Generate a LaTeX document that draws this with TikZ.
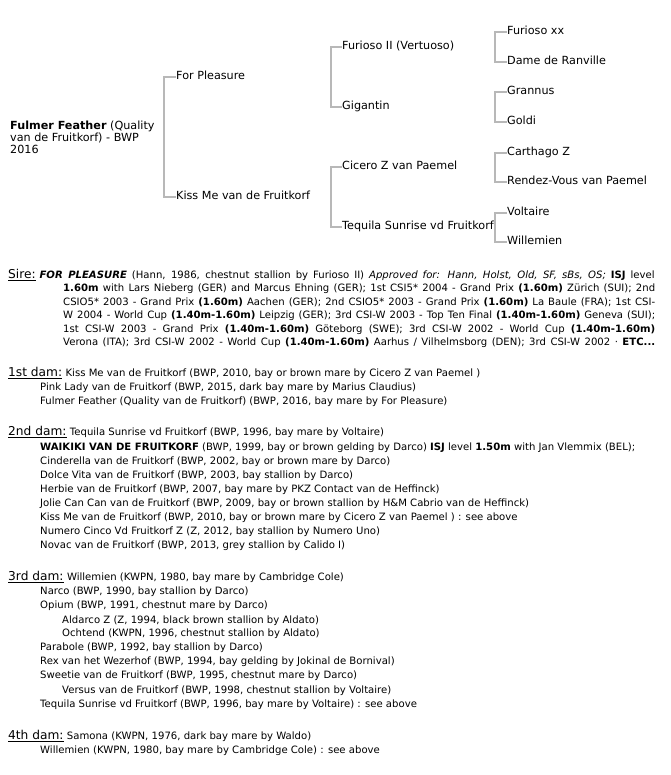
\documentclass[tikz,border=0pt]{standalone}
\usepackage{fontspec}
\setmainfont{DejaVu Sans}
\usetikzlibrary{positioning}
\newcommand\pedfont{\fontsize{11.2}{12}\selectfont}
\newcommand\bodyfont{\fontsize{10.1}{12}\selectfont}
\newcommand\headfont{\fontsize{12.2}{14}\selectfont}
\newcommand\jline[2]{\hbox to #1{#2}}
\tikzset{
  horse/.style={anchor=west, inner sep=0pt, font=\pedfont, text height=8pt, text depth=2.5pt},
  bracket/.style={draw=black!28, line width=1.2pt},
  entry/.style={anchor=base west, inner sep=0pt, font=\bodyfont},
  header/.style={anchor=base west, inner sep=0pt, font=\headfont}
}
\begin{document}
\begin{tikzpicture}[x=1pt, y=-1pt]
\useasboundingbox (0,0) rectangle (670,775);
% pedigree
\node[anchor=west, inner sep=0pt, align=left, font=\pedfont] (foal) at (10,137)
  {\textbf{Fulmer Feather} (Quality\\van de Fruitkorf) - BWP\\2016};
\node[horse] (sire) at (176,77) {For Pleasure};
\node[horse] (dam) at (176,197) {Kiss Me van de Fruitkorf};
\node[horse] (ss) at (342,47) {Furioso II (Vertuoso)};
\node[horse] (sd) at (342,107) {Gigantin};
\node[horse] (ds) at (342,167) {Cicero Z van Paemel};
\node[horse] (dd) at (342,227) {Tequila Sunrise vd Fruitkorf};
\node[horse] (sss) at (507,32) {Furioso xx};
\node[horse] (ssd) at (507,62) {Dame de Ranville};
\node[horse] (sds) at (507,92) {Grannus};
\node[horse] (sdd) at (507,122) {Goldi};
\node[horse] (dss) at (507,153) {Carthago Z};
\node[horse] (dsd) at (507,182) {Rendez-Vous van Paemel};
\node[horse] (dds) at (507,213) {Voltaire};
\node[horse] (ddd) at (507,242) {Willemien};
\draw[bracket] (sire.west) -- ++(-12,0) |- (dam.west);
\draw[bracket] (ss.west) -- ++(-11,0) |- (sd.west);
\draw[bracket] (ds.west) -- ++(-11,0) |- (dd.west);
\draw[bracket] (sss.west) -- ++(-12,0) |- (ssd.west);
\draw[bracket] (sds.west) -- ++(-12,0) |- (sdd.west);
\draw[bracket] (dss.west) -- ++(-12,0) |- (dsd.west);
\draw[bracket] (dds.west) -- ++(-12,0) |- (ddd.west);
% sire
\node[header] (hsire) at (8,278.5) {\underline{Sire:}};
\node[entry, right=3.5pt of hsire.base east, anchor=base west] (s1) {\jline{615pt}{\textbf{\textit{FOR PLEASURE}} (Hann, 1986, chestnut stallion by Furioso II) \textit{Approved for: Hann, Holst, Old, SF, sBs, OS;} \textbf{ISJ} level}};
\node[entry] (s2) at (63,291.9) {\jline{592pt}{\textbf{1.60m} with Lars Nieberg (GER) and Marcus Ehning (GER); 1st CSI5* 2004 - Grand Prix \textbf{(1.60m)} Zürich (SUI); 2nd}};
\node[entry] (s3) at (63,305.3) {\jline{592pt}{CSIO5* 2003 - Grand Prix \textbf{(1.60m)} Aachen (GER); 2nd CSIO5* 2003 - Grand Prix \textbf{(1.60m)} La Baule (FRA); 1st CSI-}};
\node[entry] (s4) at (63,318.7) {\jline{592pt}{W 2004 - World Cup \textbf{(1.40m-1.60m)} Leipzig (GER); 3rd CSI-W 2003 - Top Ten Final \textbf{(1.40m-1.60m)} Geneva (SUI);}};
\node[entry] (s5) at (63,332.1) {\jline{592pt}{1st CSI-W 2003 - Grand Prix \textbf{(1.40m-1.60m)} Göteborg (SWE); 3rd CSI-W 2002 - World Cup \textbf{(1.40m-1.60m)}}};
\node[entry] (s6) at (63,345.5) {\jline{592pt}{Verona (ITA); 3rd CSI-W 2002 - World Cup \textbf{(1.40m-1.60m)} Aarhus / Vilhelmsborg (DEN); 3rd CSI-W 2002 · \textbf{ETC...}}};
% 1st dam
\node[header] (hdam1) at (8,376.5) {\underline{1st dam:}};
\node[entry, right=3pt of hdam1.base east, anchor=base west] (d1) {Kiss Me van de Fruitkorf (BWP, 2010, bay or brown mare by Cicero Z van Paemel )};
\node[entry] (d1a) at (40,390.5) {Pink Lady van de Fruitkorf (BWP, 2015, dark bay mare by Marius Claudius)};
\node[entry] (d1b) at (40,404.5) {Fulmer Feather (Quality van de Fruitkorf) (BWP, 2016, bay mare by For Pleasure)};
% 2nd dam
\node[header] (hdam2) at (8,435.5) {\underline{2nd dam:}};
\node[entry, right=3pt of hdam2.base east, anchor=base west] (d2) {Tequila Sunrise vd Fruitkorf (BWP, 1996, bay mare by Voltaire)};
\node[entry] (d2a) at (40,450.5) {\textbf{WAIKIKI VAN DE FRUITKORF} (BWP, 1999, bay or brown gelding by Darco) \textbf{ISJ} level \textbf{1.50m} with Jan Vlemmix (BEL);};
\node[entry] (d2b) at (40,464.5) {Cinderella van de Fruitkorf (BWP, 2002, bay or brown mare by Darco)};
\node[entry] (d2c) at (40,478.5) {Dolce Vita van de Fruitkorf (BWP, 2003, bay stallion by Darco)};
\node[entry] (d2d) at (40,492.5) {Herbie van de Fruitkorf (BWP, 2007, bay mare by PKZ Contact van de Heffinck)};
\node[entry] (d2e) at (40,506.5) {Jolie Can Can van de Fruitkorf (BWP, 2009, bay or brown stallion by H\&M Cabrio van de Heffinck)};
\node[entry] (d2f) at (40,520.5) {Kiss Me van de Fruitkorf (BWP, 2010, bay or brown mare by Cicero Z van Paemel ) : see above};
\node[entry] (d2g) at (40,534.5) {Numero Cinco Vd Fruitkorf Z (Z, 2012, bay stallion by Numero Uno)};
\node[entry] (d2h) at (40,548.5) {Novac van de Fruitkorf (BWP, 2013, grey stallion by Calido I)};
% 3rd dam
\node[header] (hdam3) at (8,580.5) {\underline{3rd dam:}};
\node[entry, right=3pt of hdam3.base east, anchor=base west] (d3) {Willemien (KWPN, 1980, bay mare by Cambridge Cole)};
\node[entry] (d3a) at (40,594.5) {Narco (BWP, 1990, bay stallion by Darco)};
\node[entry] (d3b) at (40,608.5) {Opium (BWP, 1991, chestnut mare by Darco)};
\node[entry] (d3b1) at (62,623.5) {Aldarco Z (Z, 1994, black brown stallion by Aldato)};
\node[entry] (d3b2) at (62,636.5) {Ochtend (KWPN, 1996, chestnut stallion by Aldato)};
\node[entry] (d3c) at (40,650.5) {Parabole (BWP, 1992, bay stallion by Darco)};
\node[entry] (d3d) at (40,664.5) {Rex van het Wezerhof (BWP, 1994, bay gelding by Jokinal de Bornival)};
\node[entry] (d3e) at (40,678.5) {Sweetie van de Fruitkorf (BWP, 1995, chestnut mare by Darco)};
\node[entry] (d3e1) at (62,693.5) {Versus van de Fruitkorf (BWP, 1998, chestnut stallion by Voltaire)};
\node[entry] (d3f) at (40,707.5) {Tequila Sunrise vd Fruitkorf (BWP, 1996, bay mare by Voltaire) : see above};
% 4th dam
\node[header] (hdam4) at (8,739.5) {\underline{4th dam:}};
\node[entry, right=3pt of hdam4.base east, anchor=base west] (d4) {Samona (KWPN, 1976, dark bay mare by Waldo)};
\node[entry] (d4a) at (40,753.5) {Willemien (KWPN, 1980, bay mare by Cambridge Cole) : see above};
\end{tikzpicture}
\end{document}
